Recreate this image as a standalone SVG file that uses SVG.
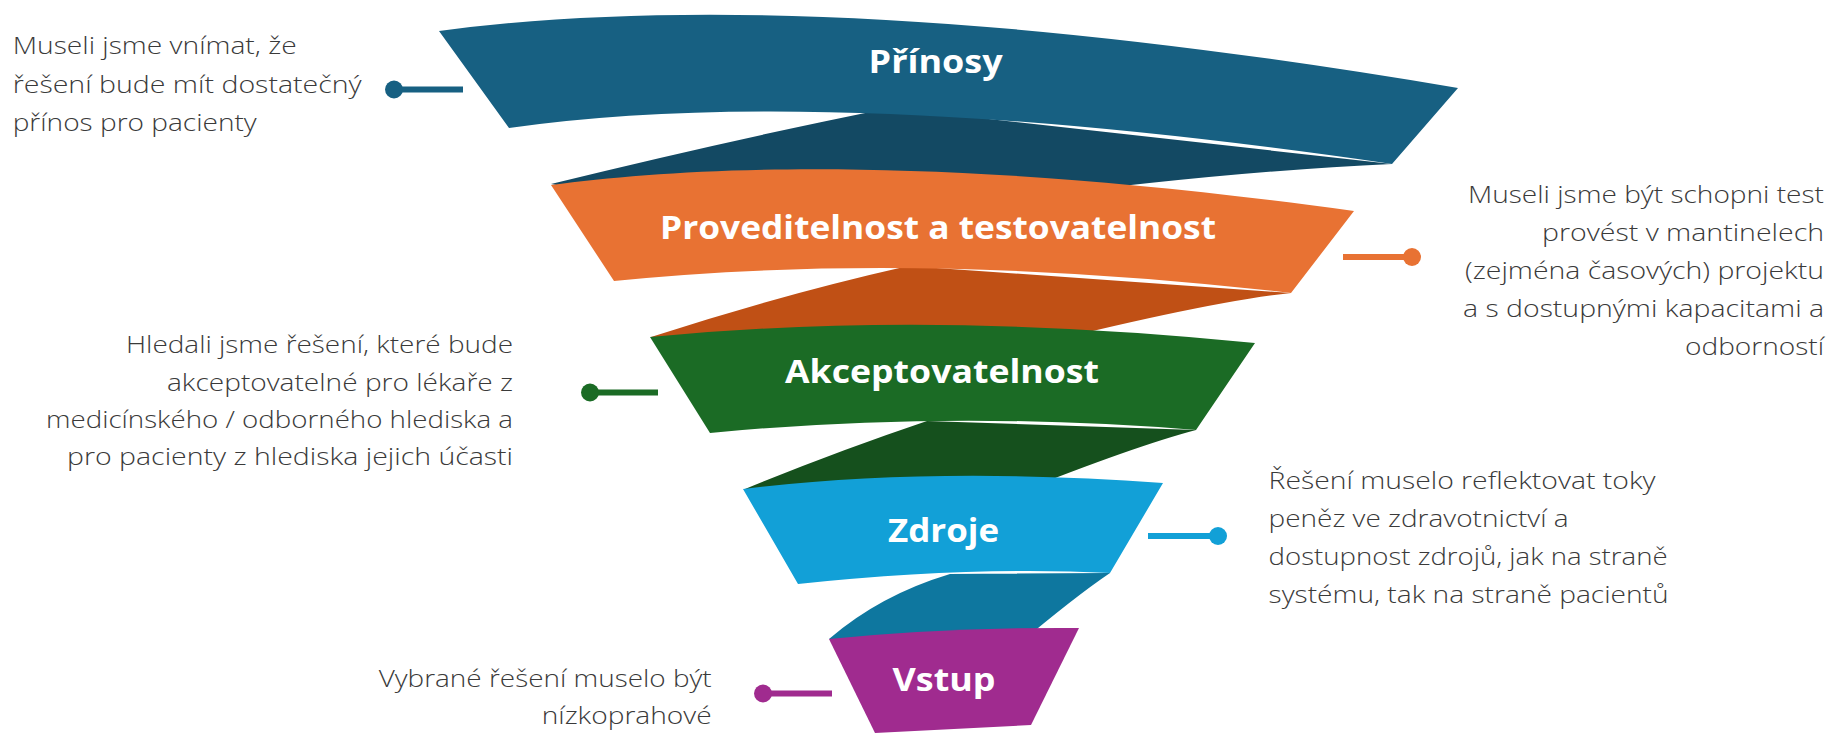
<svg xmlns="http://www.w3.org/2000/svg" width="1832" height="733" viewBox="0 0 1832 733">
<style>
.lbl{font-family:"Open Sans","Liberation Sans",sans-serif;font-weight:700;font-size:32px;fill:#ffffff;text-anchor:middle}
.desc{font-family:"Open Sans","Liberation Sans",sans-serif;font-weight:300;font-size:24px;fill:#3a3a3a}
.end{text-anchor:end}
.cl{stroke-width:6;fill:none}
</style>
<rect width="1832" height="733" fill="#ffffff"/>
<g id="twists">
<path d="M551,184 Q730,140 890,108 L1392,164 Q1150,175 800,230 Z" fill="#134963"/>
<path d="M651,337 Q780,295 908,266 L1291,293 Q1180,305 900,380 Z" fill="#C05015"/>
<path d="M745,489 Q835,452 927,421 L1196,430 Q1120,450 950,520 Z" fill="#15501D"/>
<path d="M829,639 Q880,595 950,574 L1110,573 Q1070,600 1000,660 Z" fill="#0E779F"/>
</g>
<g id="node-prinosy">
<path d="M439,31 Q820,-20 1458,88 L1392,164 Q830,82 509,128 Z" fill="#176082"/>
<text class="lbl" x="935.6" y="73" textLength="134" lengthAdjust="spacingAndGlyphs">Přínosy</text>
</g>
<g id="node-proveditelnost">
<path d="M551,185 C700,165 950,155 1354,211 L1291,293 Q920,250 614,281 Z" fill="#E87233"/>
<text class="lbl" x="938" y="238.7" textLength="556" lengthAdjust="spacingAndGlyphs">Proveditelnost a testovatelnost</text>
</g>
<g id="node-akceptovatelnost">
<path d="M650,337 Q930,310 1255,343 L1196,430 Q950,410 710,433 Z" fill="#1B6B25"/>
<text class="lbl" x="942" y="382.7" textLength="314" lengthAdjust="spacingAndGlyphs">Akceptovatelnost</text>
</g>
<g id="node-zdroje">
<path d="M743,489 Q930,466 1163,483 L1110,573 Q970,566 798,584 Z" fill="#12A0D7"/>
<text class="lbl" x="943.5" y="541.7" textLength="111" lengthAdjust="spacingAndGlyphs">Zdroje</text>
</g>
<g id="node-vstup">
<path d="M829,639 Q950,627 1079,628 L1031,725 L875,733 Z" fill="#A02B8F"/>
<text class="lbl" x="944" y="690.7" textLength="103" lengthAdjust="spacingAndGlyphs">Vstup</text>
</g>
<g id="connectors">
<line class="cl" x1="394" y1="89.5" x2="463" y2="89.5" stroke="#176082"/>
<circle cx="394" cy="89.5" r="9" fill="#176082"/>
<line class="cl" x1="1343" y1="257" x2="1412" y2="257" stroke="#E87233"/>
<circle cx="1412" cy="257" r="9" fill="#E87233"/>
<line class="cl" x1="590" y1="392.5" x2="658" y2="392.5" stroke="#1B6B25"/>
<circle cx="590" cy="392.5" r="9" fill="#1B6B25"/>
<line class="cl" x1="1148" y1="536" x2="1218" y2="536" stroke="#12A0D7"/>
<circle cx="1218" cy="536" r="9" fill="#12A0D7"/>
<line class="cl" x1="763" y1="693.5" x2="832" y2="693.5" stroke="#A02B8F"/>
<circle cx="763" cy="693.5" r="9" fill="#A02B8F"/>
</g>
<g id="desc-prinosy" class="desc">
<text x="12.7" y="54" textLength="284" lengthAdjust="spacingAndGlyphs">Museli jsme vnímat, že</text>
<text x="12.7" y="92.5" textLength="349" lengthAdjust="spacingAndGlyphs">řešení bude mít dostatečný</text>
<text x="12.7" y="131" textLength="244" lengthAdjust="spacingAndGlyphs">přínos pro pacienty</text>
</g>
<g id="desc-proveditelnost" class="desc end">
<text x="1824" y="203.3" textLength="356" lengthAdjust="spacingAndGlyphs">Museli jsme být schopni test</text>
<text x="1824" y="241.2" textLength="282" lengthAdjust="spacingAndGlyphs">provést v mantinelech</text>
<text x="1824" y="279.1" textLength="359" lengthAdjust="spacingAndGlyphs">(zejména časových) projektu</text>
<text x="1824" y="317" textLength="361" lengthAdjust="spacingAndGlyphs">a s dostupnými kapacitami a</text>
<text x="1824" y="355" textLength="139" lengthAdjust="spacingAndGlyphs">odborností</text>
</g>
<g id="desc-akceptovatelnost" class="desc end">
<text x="513" y="353.3" textLength="387" lengthAdjust="spacingAndGlyphs">Hledali jsme řešení, které bude</text>
<text x="513" y="390.5" textLength="346" lengthAdjust="spacingAndGlyphs">akceptovatelné pro lékaře z</text>
<text x="513" y="427.7" textLength="467" lengthAdjust="spacingAndGlyphs">medicínského / odborného hlediska a</text>
<text x="513" y="465" textLength="446" lengthAdjust="spacingAndGlyphs">pro pacienty z hlediska jejich účasti</text>
</g>
<g id="desc-zdroje" class="desc">
<text x="1268.6" y="489" textLength="387" lengthAdjust="spacingAndGlyphs">Řešení muselo reflektovat toky</text>
<text x="1268.6" y="527" textLength="300" lengthAdjust="spacingAndGlyphs">peněz ve zdravotnictví a</text>
<text x="1268.6" y="565.2" textLength="399" lengthAdjust="spacingAndGlyphs">dostupnost zdrojů, jak na straně</text>
<text x="1268.6" y="603.3" textLength="400" lengthAdjust="spacingAndGlyphs">systému, tak na straně pacientů</text>
</g>
<g id="desc-vstup" class="desc end">
<text x="711.7" y="686.7" textLength="333" lengthAdjust="spacingAndGlyphs">Vybrané řešení muselo být</text>
<text x="711.7" y="724" textLength="170" lengthAdjust="spacingAndGlyphs">nízkoprahové</text>
</g>
</svg>
